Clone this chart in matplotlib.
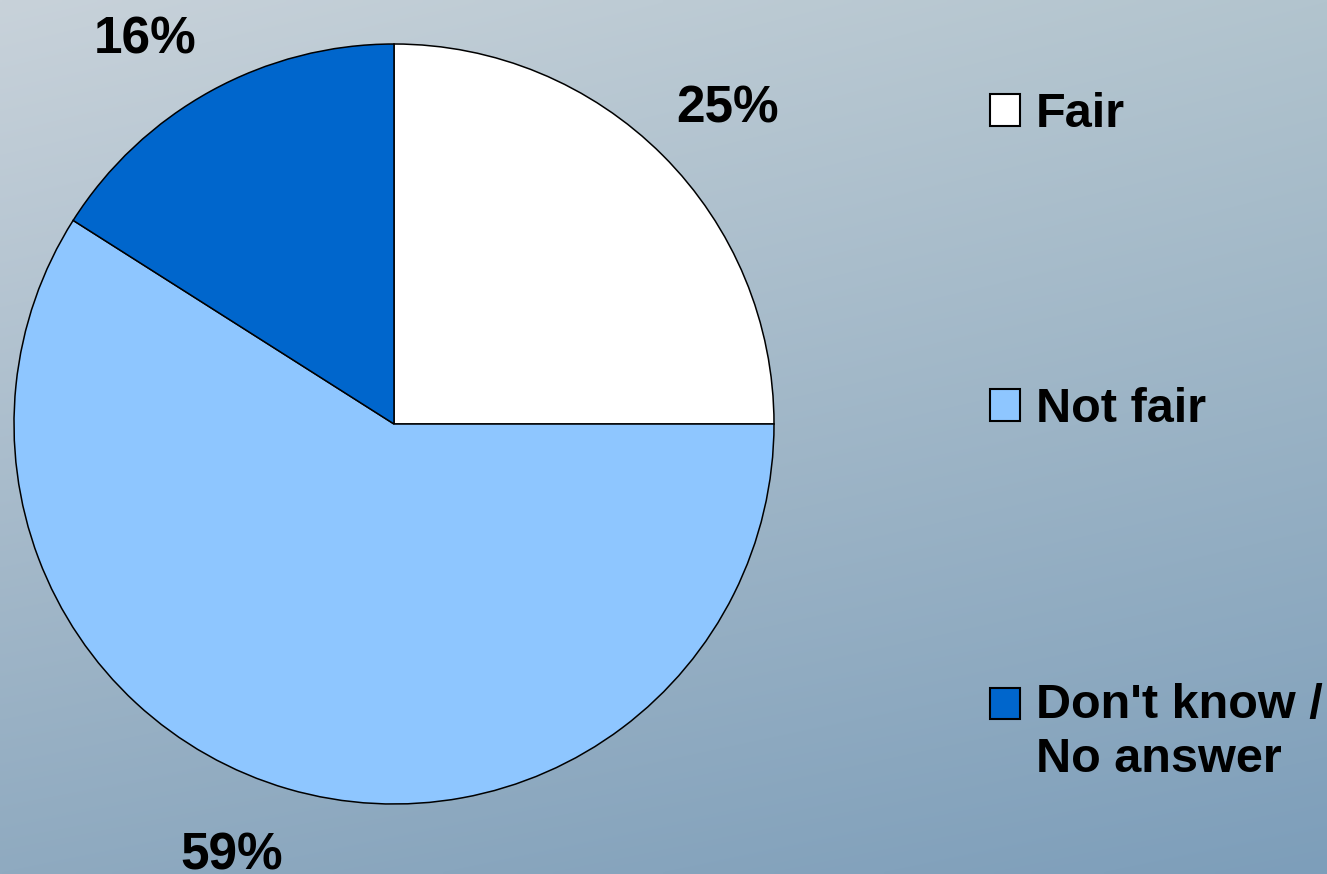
import numpy as np
import matplotlib.pyplot as plt
from matplotlib.patches import Rectangle
from matplotlib.legend_handler import HandlerPatch

# Datos del gráfico
categorias = ['Fair', 'Not fair', "Don't know /\nNo answer"]
porcentajes = [25, 59, 16]
colores = ['#FFFFFF', '#8EC6FF', '#0066CC']

W, H = 1327, 874
fig = plt.figure(figsize=(W / 100, H / 100), dpi=100)

# Fondo degradado (esquinas: sup-izq, sup-der, inf-izq, inf-der)
fondo = fig.add_axes([0, 0, 1, 1])
c_si = np.array([200, 210, 218]) / 255
c_sd = np.array([178, 196, 206]) / 255
c_ii = np.array([143, 170, 192]) / 255
c_id = np.array([125, 158, 186]) / 255
yy, xx = np.mgrid[0:1:200j, 0:1:300j]
img = (c_si * ((1 - xx) * (1 - yy))[..., None] + c_sd * (xx * (1 - yy))[..., None]
       + c_ii * ((1 - xx) * yy)[..., None] + c_id * (xx * yy)[..., None])
fondo.imshow(img, aspect='auto', extent=[0, 1, 0, 1], interpolation='bilinear')
fondo.axis('off')

# Gráfico circular en coordenadas de píxel
cx, cy, r = 394, H - 424, 380
ax = fig.add_axes([0, 0, 1, 1])
ax.patch.set_alpha(0)
cuñas, textos, autotextos = ax.pie(
    porcentajes, colors=colores, startangle=90, counterclock=False,
    center=(cx, cy), radius=r,
    autopct=lambda p: f'{p:.0f}%', pctdistance=1.21,
    wedgeprops=dict(edgecolor='black', linewidth=1.1),
    textprops=dict(fontsize=37, fontweight='bold', family='Liberation Sans'))

# pequeños ajustes de ángulo de las etiquetas, como en el original
ajuste_ang = [-1.5, -4.5, 4.0]
for w, t, d in zip(cuñas, autotextos, ajuste_ang):
    ang = np.deg2rad((w.theta1 + w.theta2) / 2 + d)
    t.set_position((cx + 1.21 * r * np.cos(ang), cy + 1.21 * r * np.sin(ang) - 2))

ax.set_xlim(0, W)
ax.set_ylim(0, H)
ax.set_aspect('equal')
ax.axis('off')


# cuadrito de leyenda alineado con la primera línea del texto
def hacer_cuadro(n_lineas):
    def cuadro(legend, orig_handle, xdescent, ydescent, width, height, fontsize):
        return Rectangle((-xdescent, -ydescent + (n_lineas - 1) * 0.6 * fontsize),
                         width, height)
    return cuadro


leg = ax.legend(cuñas, categorias, loc='upper left',
                bbox_to_anchor=(990 / W, 1 - 92 / H), bbox_transform=fig.transFigure,
                frameon=False, borderpad=0, borderaxespad=0,
                handlelength=0.62, handleheight=0.62, handletextpad=0.33,
                labelspacing=5.15,
                handler_map={w: HandlerPatch(patch_func=hacer_cuadro(c.count('\n') + 1))
                             for w, c in zip(cuñas, categorias)},
                prop=dict(size=35, weight='bold', family='Liberation Sans'))
for h in leg.legend_handles:
    h.set_linewidth(1.5)
leg.get_texts()[2].set_linespacing(1.27)

fig.savefig('out.png', dpi=100)
